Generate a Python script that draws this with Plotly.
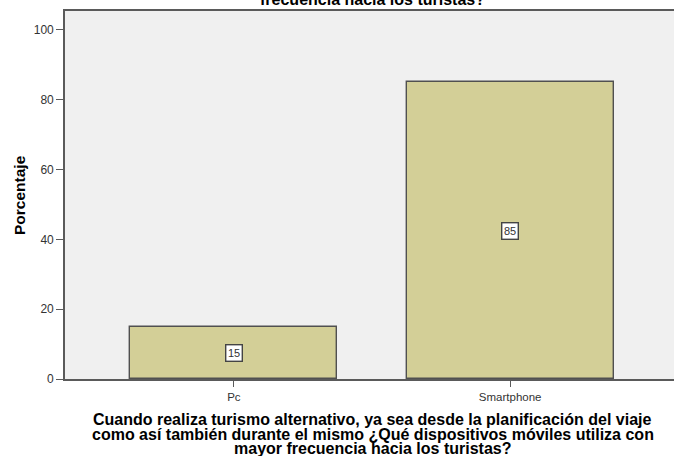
import plotly.graph_objects as go

categories = ["Pc", "Smartphone"]
values = [15, 85]
y_ticks = [0, 20, 40, 60, 80, 100]
x_title_lines = [
    "Cuando realiza turismo alternativo, ya sea desde la planificación del viaje",
    "como así también durante el mismo ¿Qué dispositivos móviles utiliza con",
    "mayor frecuencia hacia los turistas?",
]
top_title_line = "frecuencia hacia los turistas?"
y_title = "Porcentaje"

FONT = "Liberation Sans, Arial, sans-serif"

# page body margin is removed below, so figure pixels == page pixels;
# plot area spans x 65..674, y 11..379
W, H = 674, 456
ML, MT, MB = 65, 11, 77
PLOT_H = H - MT - MB
PLOT_W = W - ML


def py(page_y):
    return (H - MB - page_y) / PLOT_H


def px(page_x):
    return (page_x - ML) / PLOT_W


fig = go.Figure()
fig.add_trace(go.Bar(
    x=categories, y=values, width=0.75,
    marker=dict(color="#d3cf97", line=dict(color="#505050", width=1.4)),
    hoverinfo="skip",
))

for c, v in zip(categories, values):
    fig.add_annotation(
        x=c, y=v / 2, text=str(v), showarrow=False,
        font=dict(family=FONT, size=11, color="#333333"),
        bgcolor="white", bordercolor="#444444", borderwidth=1.4, borderpad=1.5,
    )

fig.add_annotation(
    xref="paper", yref="paper", x=px(372), y=py(0), yanchor="middle",
    text="<b>" + top_title_line + "</b>", showarrow=False,
    font=dict(family=FONT, size=16, color="black"),
)

for i, line in enumerate(x_title_lines):
    fig.add_annotation(
        xref="paper", yref="paper", x=px(372.5), y=py(420 + 14 * i),
        yanchor="middle", xanchor="center",
        text="<b>" + line + "</b>", showarrow=False,
        font=dict(family=FONT, size=16, color="black"),
    )

fig.add_annotation(
    xref="paper", yref="paper", x=px(19), y=py(195), textangle=-90,
    xanchor="center", yanchor="middle",
    text="<b>" + y_title + "</b>", showarrow=False,
    font=dict(family=FONT, size=15.5, color="black"),
)

fig.update_layout(
    width=W, height=H,
    margin=dict(l=ML, r=0, t=MT, b=MB, autoexpand=False),
    paper_bgcolor="white", plot_bgcolor="#f0f0f0",
    showlegend=False,
    bargap=0,
    hovermode=False,
    font=dict(family=FONT, color="#333333"),
)
fig.update_xaxes(
    range=[-0.611, 1.593], showgrid=False, zeroline=False, automargin=False,
    showline=True, linecolor="#5a5a5a", linewidth=1.6, mirror=True,
    ticks="outside", ticklen=6, tickcolor="#5a5a5a", tickwidth=1.4,
    tickfont=dict(family=FONT, size=11.5, color="#333333"),
)
fig.update_yaxes(
    range=[0, 105.4], tickvals=y_ticks, showgrid=False, zeroline=False, automargin=False,
    showline=True, linecolor="#5a5a5a", linewidth=1.6,
    ticks="outside", ticklen=7, tickcolor="#5a5a5a", tickwidth=1.4,
    tickfont=dict(family=FONT, size=12, color="#333333"),
)

fig.write_html("out.html", config={"displayModeBar": False},
               post_script="document.body.style.margin='0';")
